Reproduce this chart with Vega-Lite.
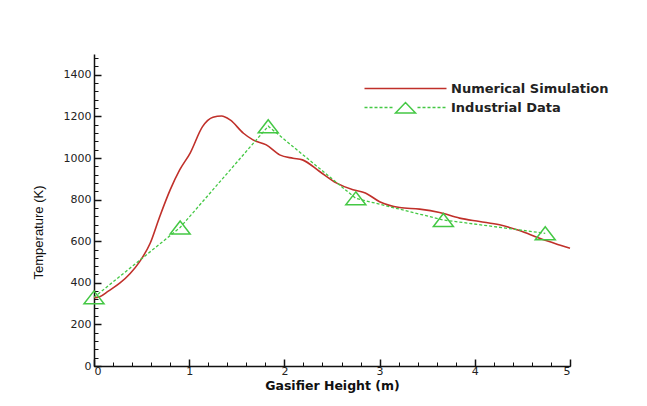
{
  "$schema": "https://vega.github.io/schema/vega-lite/v6.json",
  "width": 476,
  "height": 312,
  "autosize": "none",
  "padding": {"left": 94, "top": 54, "right": 77, "bottom": 40},
  "background": "white",
  "config": {
    "view": {"stroke": null},
    "axis": {
      "grid": false,
      "domainColor": "#111",
      "domainWidth": 1.5,
      "tickColor": "#111",
      "labelFont": "DejaVu Sans",
      "labelFontSize": 11,
      "labelColor": "#222",
      "titleColor": "#111"
    }
  },
  "datasets": {
    "sim": [
      {"x": 0, "T": 328, "series": "Numerical Simulation"},
      {"x": 0.06, "T": 333, "series": "Numerical Simulation"},
      {"x": 0.15, "T": 360, "series": "Numerical Simulation"},
      {"x": 0.27, "T": 398, "series": "Numerical Simulation"},
      {"x": 0.38, "T": 445, "series": "Numerical Simulation"},
      {"x": 0.48, "T": 502, "series": "Numerical Simulation"},
      {"x": 0.59, "T": 590, "series": "Numerical Simulation"},
      {"x": 0.69, "T": 718, "series": "Numerical Simulation"},
      {"x": 0.8, "T": 847, "series": "Numerical Simulation"},
      {"x": 0.9, "T": 943, "series": "Numerical Simulation"},
      {"x": 1.01, "T": 1024, "series": "Numerical Simulation"},
      {"x": 1.14, "T": 1151, "series": "Numerical Simulation"},
      {"x": 1.25, "T": 1196, "series": "Numerical Simulation"},
      {"x": 1.34, "T": 1202, "series": "Numerical Simulation"},
      {"x": 1.43, "T": 1183, "series": "Numerical Simulation"},
      {"x": 1.57, "T": 1119, "series": "Numerical Simulation"},
      {"x": 1.67, "T": 1087, "series": "Numerical Simulation"},
      {"x": 1.81, "T": 1063, "series": "Numerical Simulation"},
      {"x": 1.95, "T": 1015, "series": "Numerical Simulation"},
      {"x": 2.09, "T": 999, "series": "Numerical Simulation"},
      {"x": 2.19, "T": 991, "series": "Numerical Simulation"},
      {"x": 2.37, "T": 935, "series": "Numerical Simulation"},
      {"x": 2.55, "T": 879, "series": "Numerical Simulation"},
      {"x": 2.72, "T": 847, "series": "Numerical Simulation"},
      {"x": 2.85, "T": 832, "series": "Numerical Simulation"},
      {"x": 3.0, "T": 790, "series": "Numerical Simulation"},
      {"x": 3.21, "T": 762, "series": "Numerical Simulation"},
      {"x": 3.42, "T": 754, "series": "Numerical Simulation"},
      {"x": 3.63, "T": 738, "series": "Numerical Simulation"},
      {"x": 3.84, "T": 711, "series": "Numerical Simulation"},
      {"x": 4.05, "T": 695, "series": "Numerical Simulation"},
      {"x": 4.26, "T": 679, "series": "Numerical Simulation"},
      {"x": 4.47, "T": 651, "series": "Numerical Simulation"},
      {"x": 4.68, "T": 614, "series": "Numerical Simulation"},
      {"x": 4.89, "T": 582, "series": "Numerical Simulation"},
      {"x": 5.0, "T": 566, "series": "Numerical Simulation"}
    ],
    "ind": [
      {"x": 0, "T": 330, "series": "Industrial Data"},
      {"x": 0.905, "T": 666, "series": "Industrial Data"},
      {"x": 1.83, "T": 1153, "series": "Industrial Data"},
      {"x": 2.75, "T": 806, "series": "Industrial Data"},
      {"x": 3.67, "T": 702, "series": "Industrial Data"},
      {"x": 4.74, "T": 638, "series": "Industrial Data"}
    ]
  },
  "resolve": {"axis": {"x": "independent", "y": "independent"}},
  "layer": [
    {
      "data": {"name": "ind"},
      "mark": {"type": "point", "opacity": 0},
      "encoding": {
        "x": {"field": "x", "type": "quantitative", "scale": {"domain": [0, 5], "nice": false},
          "axis": {"orient": "bottom", "values": [0,0.2,0.4,0.6,0.8,1,1.2,1.4,1.6,1.8,2,2.2,2.4,2.6,2.8,3,3.2,3.4,3.6,3.8,4,4.2,4.4,4.6,4.8,5], "labels": false, "domain": false, "tickSize": -4, "tickWidth": 1, "title": null}},
        "y": {"field": "T", "type": "quantitative", "scale": {"domain": [0, 1500], "nice": false},
          "axis": {"orient": "left", "values": [0,40,80,120,160,200,240,280,320,360,400,440,480,520,560,600,640,680,720,760,800,840,880,920,960,1000,1040,1080,1120,1160,1200,1240,1280,1320,1360,1400,1440,1480], "labels": false, "domain": false, "tickSize": -4, "tickWidth": 1, "title": null}}
      }
    },
    {
      "data": {"name": "sim"},
      "mark": {"type": "line", "interpolate": "monotone", "strokeWidth": 1.6},
      "encoding": {
        "x": {"field": "x", "type": "quantitative", "scale": {"domain": [0, 5], "nice": false},
          "axis": {"orient": "bottom", "values": [0,1,2,3,4,5], "format": "d", "tickSize": -7, "tickWidth": 1.5, "labelPadding": 6, "title": "Gasifier Height (m)", "titleFont": "DejaVu Sans", "titleFontSize": 12.5, "titleFontWeight": "bold", "titlePadding": 3}},
        "y": {"field": "T", "type": "quantitative", "scale": {"domain": [0, 1500], "nice": false},
          "axis": {"orient": "left", "values": [0,200,400,600,800,1000,1200,1400], "format": "d", "tickSize": -7, "tickWidth": 1.5, "labelPadding": 10, "title": "Temperature (K)", "titleFont": "Liberation Sans", "titleFontSize": 13, "titleFontWeight": "normal", "titleAngle": 270, "titleX": -56, "titleY": 178, "titleAlign": "center", "titleBaseline": "middle"}},
        "color": {"field": "series", "type": "nominal",
          "scale": {"domain": ["Numerical Simulation", "Industrial Data"], "range": ["#c0302a", "#44c844"]},
          "legend": {
            "title": null, "orient": "none", "legendX": 269, "legendY": 28, "padding": 0,
            "symbolSize": 100, "symbolStrokeWidth": 1.5, "labelOffset": 75, "rowPadding": 3,
            "labelFont": "DejaVu Sans", "labelFontSize": 13, "labelFontWeight": "bold", "labelColor": "#222",
            "encode": {"symbols": {"update": {"shape": {"signal": "datum.value === 'Industrial Data' ? 'M-1,0H-0.4M0,0H0.6M1,0H1.6M2,0H2.6M3,0H3.6M4,0H4.6M5.2,1.1L7.2,-1L9.2,1.1ZM9.6,0H10.2M10.6,0H11.2M11.6,0H12.2M12.6,0H13.2M13.6,0H14.2M14.6,0H15.2' : 'M-1,0H15.4'"}, "fill": {"value": "transparent"}}}}
          }}
      }
    },
    {
      "data": {"name": "ind"},
      "mark": {"type": "line", "strokeDash": [3, 2], "strokeWidth": 1.3},
      "encoding": {
        "x": {"field": "x", "type": "quantitative", "axis": null},
        "y": {"field": "T", "type": "quantitative", "axis": null},
        "color": {"field": "series", "type": "nominal"}
      }
    },
    {
      "data": {"name": "ind"},
      "mark": {"type": "point", "shape": "M0,-0.65L-1,0.65L1,0.65Z", "size": 400, "filled": false, "color": "#44c844", "strokeWidth": 1.5, "opacity": 1},
      "encoding": {
        "x": {"field": "x", "type": "quantitative", "axis": null},
        "y": {"field": "T", "type": "quantitative", "axis": null}
      }
    }
  ]
}
